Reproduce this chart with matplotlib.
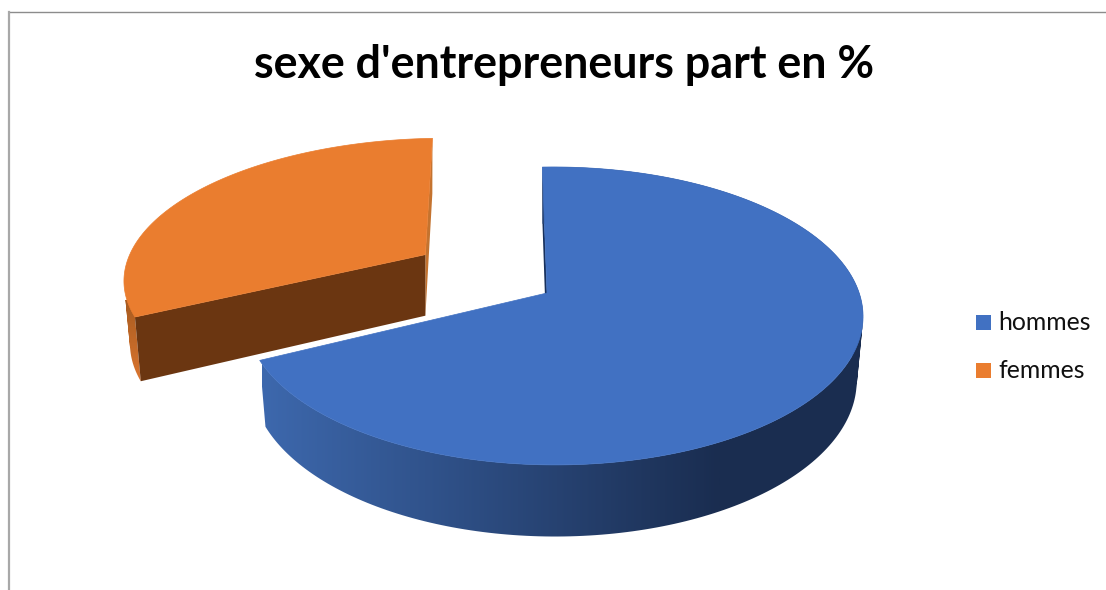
import numpy as np
import matplotlib
matplotlib.use('Agg')
import matplotlib.pyplot as plt
from matplotlib.patches import Polygon, Rectangle, PathPatch
from matplotlib.path import Path
from matplotlib.colors import LinearSegmentedColormap

# data
labels = ['hommes', 'femmes']
values = [68, 32]
title = "sexe d'entrepreneurs part en %"

# colours
top_colors = ['#4171c2', '#ea7d2f']
wall_left = ['#3d68ad', '#dd7730']
wall_right = ['#1a2d50', '#a85b20']
cut_colors = ['#17305c', '#6b3611']
side_orange = '#c4732f'

# layout of the fake 3d pie, in pixels
apex_x, apex_y = 547, 293
rad_x, rad_y = 305, 145.4
persp_v, persp_u = 0.154, 0.023
depth = 63
depth_kx, depth_ky = 0.98, 1.05
start_angle = -1
explode = [0, 0.49]
# the detached slice is a bit wider and leans to the left in the reference
slice_scale = [1, 1.05]
slice_shear = [0, -0.04]
slice_lift = [0, -3]


def project(u, v):
    # unit disc -> screen, with a small perspective
    w = 1 + persp_v * v - persp_u * u
    return apex_x + rad_x * u / w, apex_y - rad_y * v / w


def wall_patch(rim_x, rim_y, low_x, low_y, zorder):
    # outline of the wall as small quads, all turning the same way so none cancels out
    quads = []
    for k in range(len(rim_x) - 1):
        q = np.array([(rim_x[k], rim_y[k]), (rim_x[k + 1], rim_y[k + 1]),
                      (low_x[k + 1], low_y[k + 1]), (low_x[k], low_y[k]), (rim_x[k], rim_y[k])])
        area = np.sum(q[:-1, 0] * q[1:, 1] - q[1:, 0] * q[:-1, 1])
        if area < 0:
            q = q[::-1]
        quads.append(Path(q, closed=True))
    return PathPatch(Path.make_compound_path(*quads), fc='none', ec='none', zorder=zorder)


fig = plt.figure(figsize=(11.06, 5.90), dpi=100)
ax = fig.add_axes([0, 0, 1, 1])

# chart frame
ax.plot([9, 1106], [11.5, 11.5], color='#8c8c8c', lw=1)
ax.plot([9, 9], [11.5, 590], color='#a8a8a8', lw=1.6)

ax.text(564, 65, title, ha='center', va='center', fontsize=32.3, fontweight='bold',
        family='Lato', color='black')

shares = np.array(values) / sum(values) * 360
starts = start_angle + np.concatenate([[0], np.cumsum(shares)[:-1]])

z = 2
# orange goes first, the blue slice overlaps it
for i in [1, 0]:
    th = np.radians(np.linspace(starts[i], starts[i] + shares[i], 240))
    mid = np.radians(starts[i] + shares[i] / 2)
    off_u, off_v = explode[i] * np.sin(mid), explode[i] * np.cos(mid)
    rim_x, rim_y = project(np.sin(th) + off_u, np.cos(th) + off_v)
    ax_x, ax_y = project(off_u, off_v)

    rim_x = ax_x + (rim_x - ax_x) * slice_scale[i] + (rim_y - ax_y) * -slice_shear[i]
    rim_y = rim_y + slice_lift[i]
    ax_y = ax_y + slice_lift[i]

    # bottom face, shrinks in x around the slice apex
    low_x = ax_x + (rim_x - ax_x) * depth_kx
    low_y = apex_y + (rim_y - apex_y) * depth_ky + depth
    low_ax, low_ay = ax_x, apex_y + (ax_y - apex_y) * depth_ky + depth

    # cut face at the start of the blue / end of the orange slice (back one)
    last = -1 if i == 1 else 0
    back = Polygon([(rim_x[last], rim_y[last]), (low_x[last], low_y[last]), (low_ax, low_ay), (ax_x, ax_y)],
                   closed=True, fc=cut_colors[0] if i == 0 else side_orange, ec='none', zorder=z)
    ax.add_patch(back)
    z += 1

    # outer wall with a gradient clipped to its outline
    wall = wall_patch(rim_x, rim_y, low_x, low_y, z)
    ax.add_patch(wall)
    cmap = LinearSegmentedColormap.from_list('wall', [wall_left[i], wall_right[i]])
    if i == 0:
        grad = np.linspace(0, 1, 256).reshape(1, -1)
        im = ax.imshow(grad, extent=[262, 720, 590, 0], cmap=cmap, aspect='auto', zorder=z)
        # right of the ramp stays dark
        dark = ax.imshow(np.ones((1, 1)), extent=[720, 900, 590, 0], cmap=cmap, vmin=0, vmax=1,
                         aspect='auto', zorder=z)
        dark.set_clip_path(wall)
    else:
        grad = np.linspace(0, 1, 256).reshape(-1, 1)
        im = ax.imshow(grad, extent=[100, 200, 385, 300], cmap=cmap, aspect='auto', origin='lower', zorder=z)
    im.set_clip_path(wall)
    z += 1

    # cut face at the front of the orange slice
    if i == 1:
        ax.add_patch(Polygon([(rim_x[0], rim_y[0]), (low_x[0], low_y[0]), (low_ax, low_ay), (ax_x, ax_y)],
                             closed=True, fc=cut_colors[1], ec='none', zorder=z))
        z += 1

    # top surface
    pts = np.column_stack([np.r_[ax_x, rim_x], np.r_[ax_y, rim_y]])
    ax.add_patch(Polygon(pts, closed=True, fc=top_colors[i], ec=top_colors[i], lw=0.5, zorder=z))
    z += 1

# legend
legend_y = [322.5, 370.5]
for name, col, y in zip(labels, top_colors, legend_y):
    ax.add_patch(Rectangle((976, y - 7.5), 15, 15, fc=col, ec='none', zorder=z))
    ax.text(998, y, name, ha='left', va='center', fontsize=17.8, family='Lato', color='#111111')

ax.set_xlim(0, 1106)
ax.set_ylim(590, 0)
ax.axis('off')

fig.savefig('out.png', dpi=100)
